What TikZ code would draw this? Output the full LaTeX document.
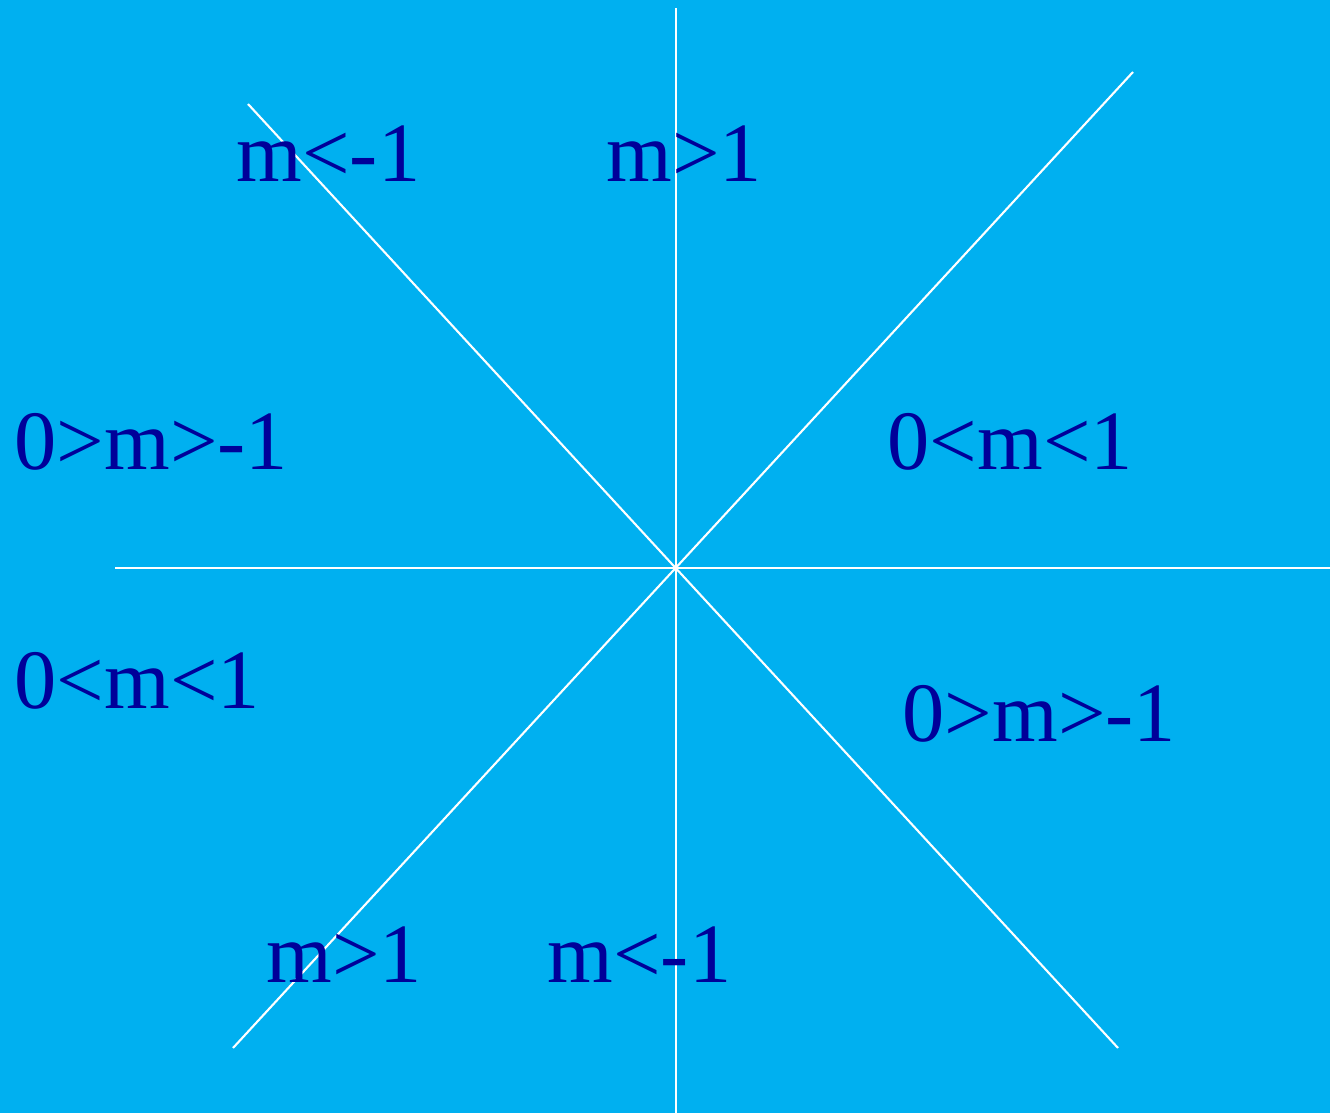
\documentclass[tikz,border=0pt]{standalone}
\usepackage{fontspec}
\setmainfont{Liberation Serif}
\definecolor{bg}{HTML}{00B0F0}
\definecolor{txt}{HTML}{000099}
\begin{document}
\begin{tikzpicture}[x=0.01cm,y=-0.01cm,
  axis/.style={draw=white,line width=0.6pt},
  lbl/.style={anchor=base west,inner sep=0pt,text=txt,font=\fontsize{24pt}{28pt}\selectfont}]
\fill[bg] (0,0) rectangle (1330,1113);
\useasboundingbox (0,0) rectangle (1330,1113);
\coordinate (vt) at (676,8);
\coordinate (vb) at (676,1113);
\coordinate (hl) at (115,568);
\coordinate (hr) at (1330,568);
\coordinate (d1a) at (248,104);
\coordinate (d1b) at (1118,1048);
\coordinate (d2a) at (1133,72);
\coordinate (d2b) at (233,1048);
\draw[axis] (vt) -- (vb);
\draw[axis] (hl) -- (hr);
\draw[axis] (d1a) -- (d1b);
\draw[axis] (d2a) -- (d2b);
\node[lbl] (t1) at (236,182) {m<-1};
\node[lbl] (t2) at (606,182) {m>1};
\node[lbl] (t3) at (14,470) {0>m>-1};
\node[lbl] (t4) at (887,470) {0<m<1};
\node[lbl] (t5) at (14,709) {0<m<1};
\node[lbl] (t6) at (902,742) {0>m>-1};
\node[lbl] (t7) at (266,982) {m>1};
\node[lbl] (t8) at (547,982) {m<-1};
\end{tikzpicture}
\end{document}
